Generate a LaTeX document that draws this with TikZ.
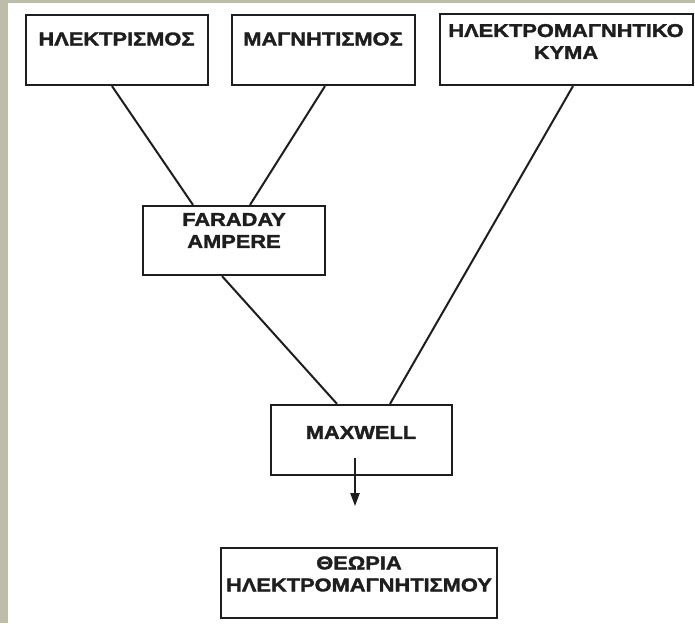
\documentclass[tikz,border=0pt]{standalone}
\usepackage{fontspec}
\newfontfamily\boxfont[FakeStretch=1.18, BoldFeatures={FakeBold=1.8}]{Liberation Sans}
\usetikzlibrary{calc,arrows.meta}
\definecolor{beige}{RGB}{190,190,168}
\definecolor{ink}{RGB}{30,30,30}
\tikzset{
  box/.style={draw=ink, line width=2.2pt, fill=white, inner sep=0pt},
  lbl/.style={font=\boxfont\bfseries\fontsize{18.5}{22}\selectfont, text=ink, align=center, inner sep=0pt},
  conn/.style={draw=ink, line width=2pt},
}
\begin{document}
\begin{tikzpicture}[x=1pt,y=-1pt]
\useasboundingbox (0,0) rectangle (695,623);
\fill[white] (0,0) rectangle (695,623);
\fill[beige] (0,0) rectangle (8,623);
\fill[beige] (0,0) rectangle (695,3);

% boxes
\node[box, minimum width=182, minimum height=70] (A) at (117,50) {};
\node[box, minimum width=183, minimum height=70] (B) at (323.5,50) {};
\node[box, minimum width=253, minimum height=71] (C) at (566.5,49.5) {};
\node[box, minimum width=182, minimum height=69] (D) at (234,240.5) {};
\node[box, minimum width=181, minimum height=70] (E) at (361.5,440) {};
\node[box, minimum width=276, minimum height=70] (F) at (359,583) {};

% labels
\node[lbl] (tA) at (116.5,39) {ΗΛΕΚΤΡΙΣΜΟΣ};
\node[lbl] (tB) at (323,39) {ΜΑΓΝΗΤΙΣΜΟΣ};
\node[lbl] (tC) at (566,41.5) {ΗΛΕΚΤΡΟΜΑΓΝΗΤΙΚΟ\\ΚΥΜΑ};
\node[lbl] (tD) at (234,230.5) {FARADAY\\AMPERE};
\node[lbl] (tE) at (361,432.5) {MAXWELL};
\node[lbl] (tF) at (359,574) {ΘΕΩΡΙΑ\\ΗΛΕΚΤΡΟΜΑΓΝΗΤΙΣΜΟΥ};

% connectors
\draw[conn] ($(A.south)+(-5,0)$) -- ($(D.north)+(-41,0)$);
\draw[conn] ($(B.south)+(1.5,0)$) -- ($(D.north)+(16,0)$);
\draw[conn] ($(C.south)+(6.5,0)$) -- ($(E.north)+(28.5,0)$);
\draw[conn] ($(D.south)+(-12,0)$) -- ($(E.north)+(-24.5,0)$);

\coordinate (m1) at ($(E.south)+(-6.5,-18)$);
\coordinate (m2) at ($(E.south)+(-6.5,30)$);
\draw[conn, -{Triangle[length=13pt,width=9pt]}] (m1) -- (m2);
\end{tikzpicture}
\end{document}
